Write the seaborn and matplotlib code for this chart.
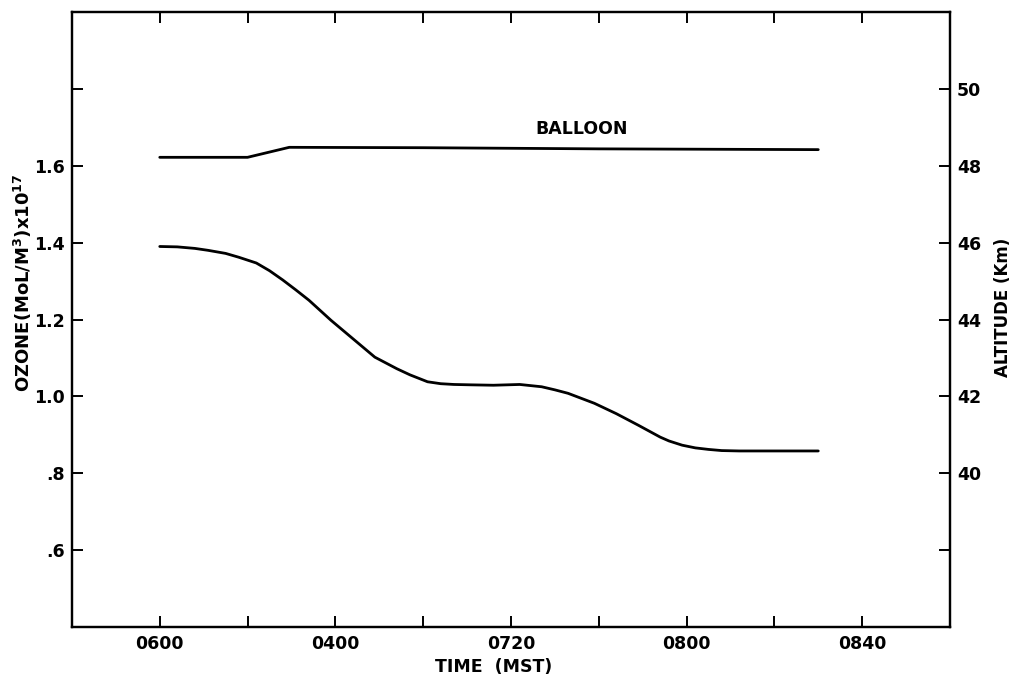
import numpy as np
import pandas as pd
import matplotlib
matplotlib.use("Agg")
import matplotlib.pyplot as plt
import seaborn as sns

# ---- data (time in minutes after 0600 MST) ----
ozone_time = [0, 4, 8, 11, 15, 18, 22, 25, 28, 31, 34, 39, 44, 49, 54, 57, 61,
              64, 67, 71, 76, 82, 87, 90, 93, 96, 99, 104, 109, 114, 116, 119,
              122, 125, 128, 132, 150]
ozone_value = [1.390, 1.389, 1.385, 1.380, 1.372, 1.362, 1.347, 1.327, 1.303,
               1.277, 1.250, 1.198, 1.150, 1.102, 1.072, 1.056, 1.038, 1.033,
               1.031, 1.030, 1.029, 1.031, 1.025, 1.017, 1.008, 0.995, 0.982,
               0.955, 0.925, 0.894, 0.884, 0.873, 0.866, 0.862, 0.859, 0.858,
               0.858]
balloon_time = [0, 20, 29.5, 60, 100, 150]
balloon_alt = [48.22, 48.22, 48.48, 48.47, 48.44, 48.42]

x_ticks = [0, 40, 80, 120, 160]
x_ticklabels = ["0600", "0400", "0720", "0800", "0840"]
x_minor = [20, 60, 100, 140]
oz_ticks = [0.6, 0.8, 1.0, 1.2, 1.4, 1.6, 1.8]
oz_labels = [".6", ".8", "1.0", "1.2", "1.4", "1.6", ""]
alt_ticks = [38, 40, 42, 44, 46, 48, 50]
alt_labels = ["", "40", "42", "44", "46", "48", "50"]

sns.set_theme(style="ticks")
plt.rcParams['font.family'] = ['DejaVu Sans']
plt.rcParams['font.weight'] = 'bold'
plt.rcParams['axes.labelweight'] = 'bold'
plt.rcParams['axes.labelcolor'] = 'black'
plt.rcParams['text.color'] = 'black'
plt.rcParams['mathtext.default'] = 'bf'

oz_df = pd.DataFrame({"time": ozone_time, "ozone": ozone_value})
bal_df = pd.DataFrame({"time": balloon_time, "alt": balloon_alt})

fig = plt.figure(figsize=(10.12, 6.76), dpi=100)
ax = fig.add_axes([0.0711, 0.0725, 0.8676, 0.9097])
ax2 = ax.twinx()

sns.lineplot(data=oz_df, x="time", y="ozone", ax=ax, color="black", lw=2.0)
sns.lineplot(data=bal_df, x="time", y="alt", ax=ax2, color="black", lw=2.0)

ax.set_xlim(-20, 180)
ax.set_ylim(0.4, 2.0)
ax2.set_ylim(36, 52)

ax.set_xticks(x_ticks)
ax.set_xticklabels(x_ticklabels, fontsize=12.5, fontweight='bold')
ax.set_xticks(x_minor, minor=True)
ax.set_yticks(oz_ticks)
ax.set_yticklabels(oz_labels, fontsize=12.5, fontweight='bold')
ax2.set_yticks(alt_ticks)
ax2.set_yticklabels(alt_labels, fontsize=12.5, fontweight='bold')

ax.tick_params(axis='x', which='both', direction='in', length=8, width=1.4,
               top=True, bottom=True, pad=6, colors='black')
ax.tick_params(axis='y', which='both', direction='in', length=8, width=1.4,
               left=True, right=False, pad=5, colors='black')
ax2.tick_params(axis='y', which='both', direction='in', length=8, width=1.4,
                right=True, pad=5, colors='black')

for a in (ax, ax2):
    for s in a.spines.values():
        s.set_linewidth(1.6)
        s.set_color('black')

ax.set_xlabel("TIME  (MST)", fontsize=12.5, fontweight='bold', color='black')
ax.xaxis.set_label_coords(0.48, -0.05)
ax.set_ylabel(r"OZONE(MoL/M$^{3}$)x10$^{17}$", fontsize=13, fontweight='bold',
              color='black')
ax.yaxis.set_label_coords(-0.043, 0.56)
ax2.set_ylabel("ALTITUDE (Km)", fontsize=12, fontweight='bold', color='black')
ax2.yaxis.set_label_coords(1.05, 0.52)

ax2.text(96, 48.96, "BALLOON", ha='center', va='center', fontsize=12.5,
         fontweight='bold', color='black')

fig.savefig("out.png", dpi=100)
